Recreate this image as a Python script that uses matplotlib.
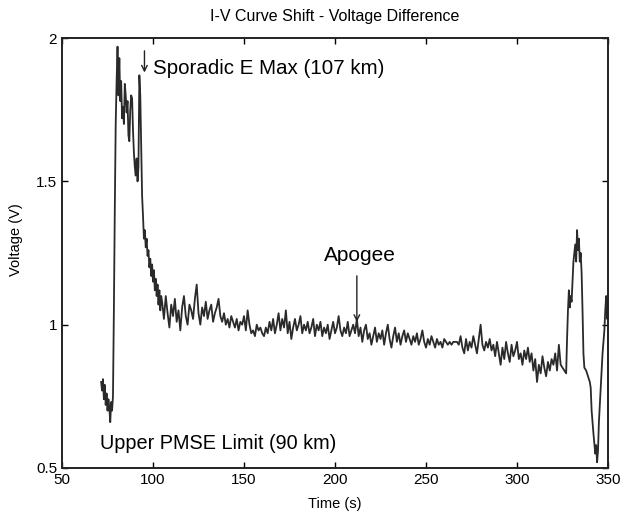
import numpy as np
import matplotlib
matplotlib.use("Agg")
import matplotlib.pyplot as plt

plt.rcParams['font.family'] = ['Liberation Sans', 'DejaVu Sans']

# --- launch / sporadic-E segment (irregular sampling) ---
t_early = [71.5, 72.0, 72.5, 73.0, 73.5, 74.0, 74.5, 75.0, 75.5, 76.0, 76.5, 77.0, 77.5, 78.0,
           78.5, 79.0, 79.5, 80.0, 80.5, 81.0, 81.5, 82.0, 82.5, 83.0, 83.5, 84.0, 84.5, 85.0,
           85.5, 86.0, 86.5, 87.0, 87.5, 88.0, 88.5, 89.0, 89.5, 90.0, 90.5, 91.0, 91.5, 92.0,
           92.5, 93.0, 93.5, 94.0, 94.5, 95.0, 95.5, 96.0, 96.5, 97.0, 97.5, 98.0, 98.5, 99.0,
           99.5, 100.0, 100.5, 101.0, 101.5, 102.0, 102.5, 103.0, 103.5, 104.0, 104.5]
v_early = [0.80, 0.77, 0.81, 0.74, 0.79, 0.72, 0.76, 0.70, 0.74, 0.71, 0.66, 0.73, 0.70, 0.75,
           1.05, 1.40, 1.70, 1.85, 1.97, 1.80, 1.93, 1.78, 1.85, 1.72, 1.76, 1.70, 1.84, 1.80,
           1.74, 1.78, 1.66, 1.64, 1.75, 1.80, 1.79, 1.68, 1.60, 1.55, 1.52, 1.58, 1.50, 1.55,
           1.87, 1.80, 1.62, 1.45, 1.38, 1.30, 1.33, 1.27, 1.30, 1.24, 1.26, 1.20, 1.23, 1.17,
           1.21, 1.15, 1.19, 1.12, 1.16, 1.10, 1.14, 1.07, 1.12, 1.05, 1.10]

# --- main flight segment, 1 s sampling from 105 s to 325 s ---
t_main = np.arange(105, 326, 1)
v_main = [1.08, 1.02, 1.10, 1.04, 0.99, 1.07, 1.03, 1.09, 1.01, 1.05, 0.98, 1.06, 1.10, 1.03, 1.00, 1.07, 1.05, 1.02, 1.09, 1.14,
          1.04, 1.00, 1.06, 1.03, 1.08, 1.02, 1.05, 1.07, 1.01, 1.04, 1.06, 1.09, 1.03, 1.01, 1.04, 1.00, 1.02, 0.99, 1.03, 1.01,
          0.99, 1.02, 0.98, 1.01, 1.00, 1.03, 0.98, 1.05, 1.00, 0.97, 0.98, 0.96, 1.00, 0.98, 0.99, 0.97, 0.96, 0.99, 0.97, 1.01,
          0.98, 1.02, 0.97, 1.00, 1.04, 0.98, 1.02, 0.99, 1.05, 0.97, 1.01, 0.95, 0.99, 1.02, 0.98, 1.00, 1.03, 0.97, 1.00, 0.98,
          1.01, 0.97, 0.99, 1.02, 0.96, 1.00, 0.98, 1.01, 0.96, 0.99, 0.97, 1.00, 0.95, 0.98, 1.01, 0.97, 0.99, 1.03, 0.98, 0.96,
          0.99, 0.97, 1.01, 0.96, 0.98, 1.00, 0.97, 1.02, 0.96, 0.99, 0.94, 0.98, 1.00, 0.95, 0.97, 0.93, 0.96, 0.99, 0.94, 0.97,
          0.95, 0.98, 0.93, 0.97, 1.00, 0.95, 0.92, 0.96, 0.99, 0.94, 0.97, 0.93, 0.96, 0.98, 0.94, 0.97, 0.95, 0.93, 0.96, 0.94,
          0.97, 0.93, 0.95, 0.98, 0.94, 0.92, 0.95, 0.93, 0.96, 0.94, 0.92, 0.95, 0.93, 0.94, 0.92, 0.95, 0.94, 0.93, 0.94, 0.93,
          0.94, 0.94, 0.94, 0.93, 0.96, 0.92, 0.90, 0.95, 0.91, 0.94, 0.92, 0.96, 0.93, 0.90, 0.95, 1.00, 0.93, 0.91, 0.94, 0.92,
          0.95, 0.91, 0.93, 0.89, 0.94, 0.90, 0.86, 0.92, 0.88, 0.94, 0.90, 0.87, 0.93, 0.89, 0.91, 0.94, 0.88, 0.90, 0.86, 0.91,
          0.88, 0.92, 0.87, 0.90, 0.84, 0.88, 0.80, 0.86, 0.83, 0.89, 0.85, 0.82, 0.87, 0.84, 0.88, 0.86, 0.90, 0.84, 0.93, 0.86, 0.85]

# --- descent / re-entry segment ---
t_late = [326.0, 327.0, 327.5, 328.0, 328.5, 329.0, 329.5, 330.0, 330.5, 331.0, 331.5, 332.0, 332.5,
          333.0, 333.5, 334.0, 334.5, 335.0, 335.5, 336.0, 336.5, 337.0, 338.0, 339.0, 340.0, 340.5,
          341.0, 342.0, 343.0, 343.5, 344.0, 344.5, 345.0, 346.0, 347.0, 348.0, 348.5, 349.0, 349.5, 350.0]
v_late = [0.84, 0.83, 0.95, 1.05, 1.12, 1.06, 1.10, 1.08, 1.15, 1.22, 1.25, 1.28, 1.22,
          1.33, 1.26, 1.30, 1.22, 1.25, 1.18, 1.05, 0.90, 0.85, 0.84, 0.82, 0.80, 0.78,
          0.70, 0.62, 0.55, 0.58, 0.52, 0.56, 0.66, 0.78, 0.90, 0.98, 1.05, 1.10, 1.02, 1.08]

x_ticks = [50, 100, 150, 200, 250, 300, 350]
y_ticks = [0.5, 1, 1.5, 2]
y_tick_labels = ['0.5', '1', '1.5', '2']

assert len(t_main) == len(v_main)
assert len(t_early) == len(v_early)
assert len(t_late) == len(v_late)

t_all = np.concatenate([t_early, t_main, t_late])
v_all = np.concatenate([v_early, v_main, v_late])

fig = plt.figure(figsize=(6.22, 5.14), dpi=100)
ax = fig.add_axes([0.0997, 0.0895, 0.8778, 0.8365])
ax.plot(t_all, v_all, color='#2a2a2a', lw=1.3)

ax.set_xlim(50, 350)
ax.set_ylim(0.5, 2)
ax.set_xticks(x_ticks)
ax.set_yticks(y_ticks)
ax.set_yticklabels(y_tick_labels)
ax.tick_params(direction='in', top=True, right=True, labelsize=11, length=4, width=1)
for s in ax.spines.values():
    s.set_linewidth(1.4)
    s.set_color('#222222')

ax.set_title('I-V Curve Shift - Voltage Difference', fontsize=11.5, pad=12)
ax.set_xlabel('Time (s)', fontsize=10.5, labelpad=7)
ax.set_ylabel('Voltage (V)', fontsize=10.5)
ax.yaxis.set_label_coords(-0.072, 0.53)

ax.annotate('', xy=(95.3, 1.87), xytext=(95.3, 1.965),
            arrowprops=dict(arrowstyle='->', color='#222222', lw=1.0))
ax.text(100, 1.893, 'Sporadic E Max (107 km)', fontsize=14.8, va='center', ha='left')

ax.annotate('', xy=(212, 1.0), xytext=(212, 1.18),
            arrowprops=dict(arrowstyle='->', color='#222222', lw=1.0))
ax.text(213.7, 1.243, 'Apogee', fontsize=15, va='center', ha='center')

ax.text(70.9, 0.587, 'Upper PMSE Limit (90 km)', fontsize=14.3, va='center', ha='left')

fig.savefig('out.png', dpi=100)
